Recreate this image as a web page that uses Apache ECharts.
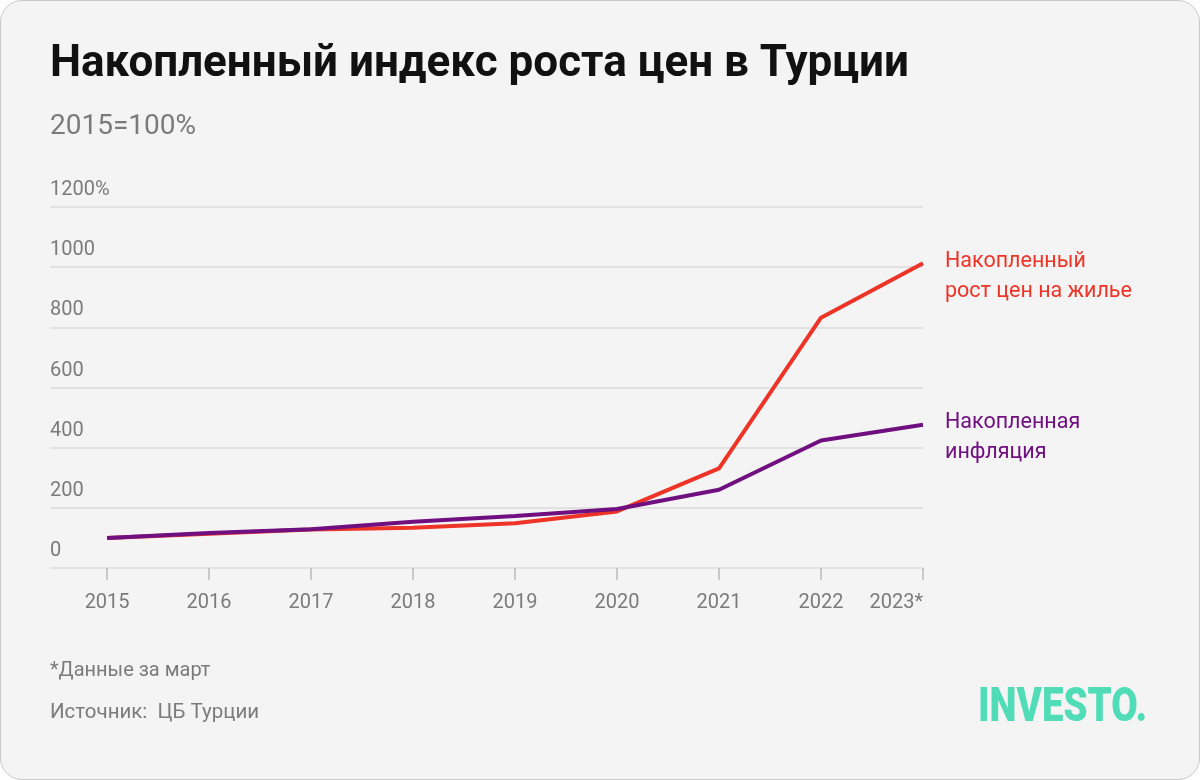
<!DOCTYPE html>
<html><head><meta charset="utf-8">
<script src="https://cdn.jsdelivr.net/npm/echarts@6/dist/echarts.min.js"></script>
<style>
html,body{margin:0;padding:0;background:#ffffff;}
#card{position:absolute;left:0;top:0;width:1198px;height:778px;background:#f4f4f4;border:1px solid #c9c9c9;border-radius:22px;overflow:hidden;}
#chart{width:1198px;height:778px;}
</style></head>
<body><div id="card"><div id="chart"></div></div>
<script>
const years = [2015, 2016, 2017, 2018, 2019, 2020, 2021, 2022, 2023];
const yearLabels = ['2015','2016','2017','2018','2019','2020','2021','2022','2023*'];
const housing = [100, 114, 128, 134, 149, 188, 331, 832, 1013];
const inflation = [100, 116, 129, 154, 173, 196, 260, 424, 476];
const yTicks = [0, 200, 400, 600, 800, 1000, 1200];

const chart = echarts.init(document.getElementById('chart'));
const gray = '#7b7b7b';
const red = '#ee3426';
const purple = '#700f80';
const F = 'Roboto, "Noto Sans", sans-serif';

chart.setOption({
  backgroundColor: 'transparent',
  animation: false,
  grid: {left: 49, right: 276, top: 206, bottom: 211},
  xAxis: {
    type: 'value', min: 2014.44, max: 2023,
    axisLine: {show: false},
    splitLine: {show: false},
    axisTick: {show: true, customValues: years, length: 12, lineStyle: {color: '#c8c8c8', width: 2}},
    axisLabel: {customValues: years, color: gray, fontSize: 20, fontFamily: F, margin: 25,
      alignMaxLabel: 'right',
      formatter: v => yearLabels[years.indexOf(Math.round(v))]}
  },
  yAxis: {
    type: 'value', min: 0, max: 1200, interval: 200,
    axisLine: {show: false}, axisTick: {show: false},
    splitLine: {lineStyle: {color: '#e1e1e1', width: 2}},
    axisLabel: {inside: true, margin: 0, verticalAlign: 'bottom', padding: [0, 0, 7, 0],
      color: gray, fontSize: 20, fontFamily: F,
      formatter: v => v === 1200 ? '1200%' : String(v)}
  },
  series: [
    {type: 'line', data: years.map((y, i) => [y, housing[i]]), showSymbol: false,
      lineStyle: {color: red, width: 4}, itemStyle: {color: red}},
    {type: 'line', data: years.map((y, i) => [y, inflation[i]]), showSymbol: false,
      lineStyle: {color: purple, width: 4}, itemStyle: {color: purple}}
  ],
  graphic: [
    {type: 'text', left: 49, top: 42, style: {text: 'Накопленный индекс роста цен в Турции', fill: '#111', font: 'bold 44px ' + F}},
    {type: 'text', left: 49, top: 112, style: {text: '2015=100%', fill: gray, font: '28px ' + F}},
    {type: 'text', left: 944, top: 246, style: {text: 'Накопленный\nрост цен на жилье', fill: red, font: '21.5px ' + F, lineHeight: 30}},
    {type: 'text', left: 944, top: 407, style: {text: 'Накопленная\nинфляция', fill: purple, font: '21.5px ' + F, lineHeight: 30}},
    {type: 'text', left: 49, top: 660, style: {text: '*Данные за март', fill: gray, font: '20px ' + F}},
    {type: 'text', left: 49, top: 701, style: {text: 'Источник:  ЦБ Турции', fill: gray, font: '20.5px ' + F}},
    {type: 'text', x: 977, y: 684, scaleX: 0.8, style: {text: 'INVESTO.', fill: '#4fdcb6', font: '900 48px ' + F}}
  ]
});
</script></body></html>
